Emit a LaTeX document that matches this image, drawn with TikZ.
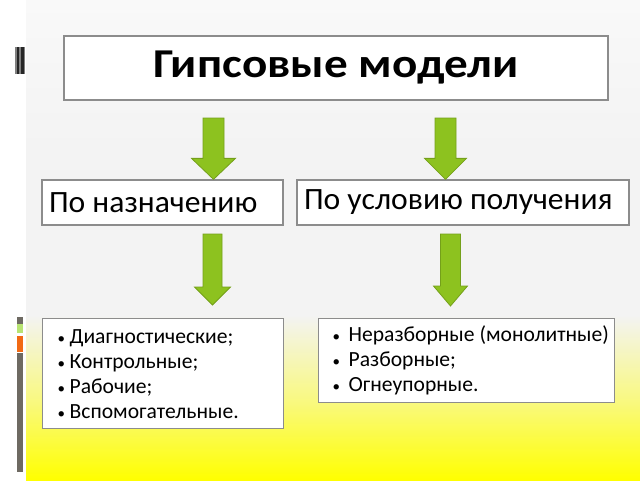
\documentclass[tikz,border=0pt]{standalone}
\usepackage{fontspec}
\setmainfont{Carlito}
\newfontfamily\titlefont[FakeStretch=1.15]{Carlito}
\newfontfamily\midfont[FakeStretch=1.02]{Carlito}
\usetikzlibrary{calc}
\definecolor{bggray}{HTML}{F3F3F3}
\definecolor{bgyellow}{HTML}{FFFF00}
\definecolor{boxline}{HTML}{8C8C8C}
\definecolor{arrowfill}{HTML}{8DC21F}
\definecolor{arrowline}{HTML}{74A01A}
\definecolor{bardark}{HTML}{6E6A62}
\definecolor{bargreen}{HTML}{B8E472}
\definecolor{barorange}{HTML}{F26A14}
\newcommand\normsp{\spaceskip=0pt\xspaceskip=0pt\relax}
\tikzset{
  box/.style={draw=boxline, line width=1.3pt, fill=white, rectangle, inner sep=0pt},
  titlebox/.style={box, font=\titlefont\fontsize{41}{46}\selectfont\bfseries},
  midbox/.style={box, font=\midfont\fontsize{31}{36}\selectfont, align=left, inner xsep=7pt},
  listbox/.style={box, font=\fontsize{21.6}{25}\selectfont, align=left, anchor=north west},
  greenarrow/.style={fill=arrowfill, draw=arrowline, line width=0.8pt, line join=miter},
}
% #1 start coord, #2 tip coord, #3 shaft half width, #4 head half width, #5 head length
\newcommand\bigarrow[5]{%
  \draw[greenarrow]
    ($(#1)+(-#3,0)$) -- ($(#1)+(#3,0)$) -- ($(#2)+(#3,-#5)$) -- ($(#2)+(#4,-#5)$)
    -- (#2) -- ($(#2)+(-#4,-#5)$) -- ($(#2)+(-#3,-#5)$) -- cycle;}
\newcommand\bl[1]{\makebox[#1][l]{\hspace{1pt}{\fontsize{15}{15}\selectfont •}}}
\begin{document}
\begin{tikzpicture}[x=1pt,y=-1pt]
\useasboundingbox (0,0) rectangle (640,480);
% background
\fill[white] (0,0) rectangle (640,480);
\shade[top color=white!50!bggray, bottom color=bggray] (26,0) rectangle (640,150);
\fill[bggray] (26,150) rectangle (640,315.5);
\shade[top color=bggray, bottom color=bgyellow!50!bggray] (26,315) rectangle (640,405.5);
\shade[top color=bgyellow!50!bggray, bottom color=bgyellow] (26,405) rectangle (640,480);
% left decoration
\fill[gray] (15,47) rectangle (25,74);
\fill[black!85] (16.5,47) rectangle (18.5,74);
\fill[black!85] (21,47) rectangle (23.5,74);
\fill[bardark] (17,317) rectangle (23,324);
\fill[bargreen] (17,324) rectangle (23,333);
\fill[barorange] (17,336) rectangle (23,352);
\fill[bardark] (17,353) rectangle (23,472);
% boxes
\node[titlebox, minimum width=544pt, minimum height=64pt] (title) at (336,68) {Гипсовые модели};
\node[midbox, minimum width=241pt, minimum height=45pt, text width=227pt] (purpose) at (162.5,202.5) {\normsp По назначению};
\node[midbox, minimum width=332pt, minimum height=45pt, text width=318pt] (method) at (463,202.5) {\normsp По условию получения};
\node[listbox, minimum width=241pt, minimum height=110pt, text width=213pt, inner xsep=14pt] (types) at (42,318)
  {\normsp\bl{13pt}Диагностические;\\ \bl{13pt}Контрольные;\\ \bl{13pt}Рабочие;\\ \bl{13pt}Вспомогательные.};
\node[listbox, minimum width=296pt, minimum height=84pt, text width=270pt, inner xsep=13pt] (kinds) at (318,318)
  {\normsp\mbox{\bl{17pt}Неразборные (монолитные)}\\ \bl{17pt}Разборные;\\ \bl{17pt}Огнеупорные.};
% arrow coordinates
\coordinate (a1s) at (213.5,118);
\coordinate (a1e) at (purpose.north -| a1s);
\coordinate (a2s) at (445.5,118);
\coordinate (a2e) at (method.north -| a2s);
\coordinate (a3s) at (212.5,234);
\coordinate (a3e) at (212.5,305);
\coordinate (a4s) at (450.5,234);
\coordinate (a4e) at (450.5,306);
\bigarrow{a1s}{a1e}{10.5}{22}{21}
\bigarrow{a2s}{a2e}{10.5}{21}{21}
\bigarrow{a3s}{a3e}{9.5}{18}{18}
\bigarrow{a4s}{a4e}{10}{17}{20}
\end{tikzpicture}
\end{document}
